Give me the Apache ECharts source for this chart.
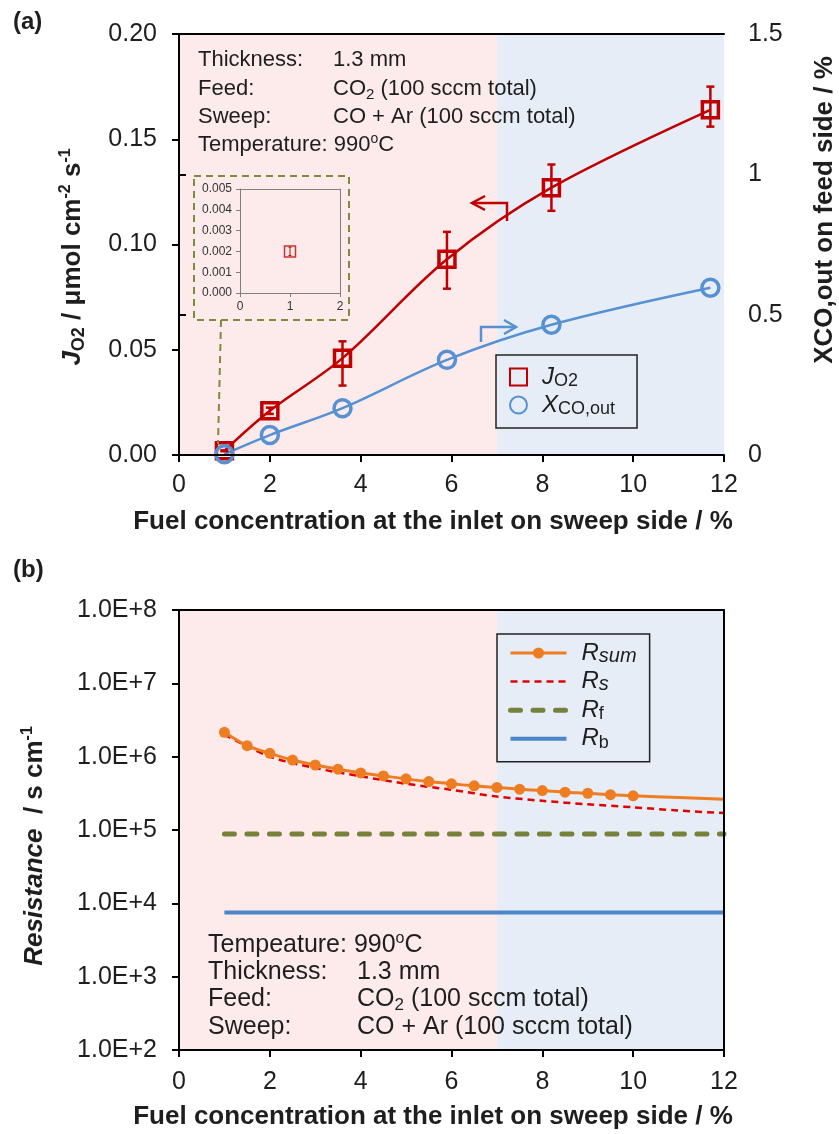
<!DOCTYPE html>
<html>
<head>
<meta charset="utf-8">
<script src="https://cdn.jsdelivr.net/npm/echarts@6/dist/echarts.min.js"></script>
<style>html,body{margin:0;padding:0;background:#fff;}#c{width:839px;height:1134px;}</style>
</head>
<body>
<div id="c"></div>
<script>
// ---------- data: panel (a) ----------
const fuelX = [1.0, 2.0, 3.6, 5.9, 8.2, 11.7];
const jo2 = [0.002, 0.021, 0.046, 0.093, 0.127, 0.164];
const jo2ErrLow = [0.0018, 0.0195, 0.033, 0.079, 0.116, 0.156];
const jo2ErrHigh = [0.0022, 0.0225, 0.054, 0.106, 0.138, 0.175];
const xcoOut = [0.003, 0.071, 0.167, 0.339, 0.464, 0.596];
const regionEdges = [0, 7, 12];

// ---------- data: panel (b) ----------
const rSumX = [1, 1.5, 2, 2.5, 3, 3.5, 4, 4.5, 5, 5.5, 6, 6.5, 7, 7.5, 8, 8.5, 9, 9.5, 10];
const rSum = [2.15e6, 1.41e6, 1.11e6, 9.0e5, 7.7e5, 6.76e5, 6.0e5, 5.47e5, 4.98e5, 4.57e5,
              4.26e5, 4.0e5, 3.8e5, 3.6e5, 3.45e5, 3.28e5, 3.17e5, 3.03e5, 2.92e5];
const rSumTailX = [11, 12];
const rSumTail = [2.77e5, 2.63e5];
const rsX = [1, 2, 3, 4, 5, 6, 7, 8, 9, 10, 11, 12];
const rs = [2.0e6, 1.0e6, 7.0e5, 5.4e5, 4.27e5, 3.53e5, 2.86e5, 2.5e5, 2.24e5, 2.04e5, 1.84e5, 1.7e5];
const rfX = [1, 12];
const rf = [8.8e4, 8.8e4];
const rbX = [1, 12];
const rb = [7.5e3, 7.5e3];

// ---------- text ----------
const annoTop = [['Thickness:', '{n|1.3 mm}'], ['Feed:', '{n|CO}{sb|2}{n| (100 sccm total)}'], ['Sweep:', '{n|CO + Ar (100 sccm total)}']];
const annoTopTemp = '{n|Temperature: 990}{sp|o}{n|C}';
const annoBotTemp = '{n|Tempeature: 990}{sp|o}{n|C}';
const annoBot = [['Thickness:', '{n|1.3 mm}'], ['Feed:', '{n|CO}{sb|2}{n| (100 sccm total)}'], ['Sweep:', '{n|CO + Ar (100 sccm total)}']];

const F = "'Liberation Sans', Arial, sans-serif";
const RED = '#c00000', BLUE = '#5691d3', ORANGE = '#ee7d22', RSRED = '#e00000', OLIVE = '#76813a', RBBLUE = '#4a86c8';
const PINK = '#fdeaea', LBLUE = '#e6edf6';
const TXT = '#1e1e1e';

const chart = echarts.init(document.getElementById('c'), null, {renderer: 'canvas'});

function pairs(xa, ya) { return xa.map((x, i) => [x, ya[i]]); }

function errRender(color, lw, cap) {
  return function (params, api) {
    const x = api.value(0), lo = api.value(1), hi = api.value(2);
    const a = api.coord([x, lo]), b = api.coord([x, hi]);
    const st = {stroke: color, lineWidth: lw};
    return {type: 'group', children: [
      {type: 'line', shape: {x1: a[0], y1: a[1], x2: b[0], y2: b[1]}, style: st},
      {type: 'line', shape: {x1: a[0] - cap, y1: a[1], x2: a[0] + cap, y2: a[1]}, style: st},
      {type: 'line', shape: {x1: b[0] - cap, y1: b[1], x2: b[0] + cap, y2: b[1]}, style: st}
    ]};
  };
}

const mainAxisLine = {show: true, lineStyle: {color: '#000', width: 2}};
const mainTick = {show: true, inside: false, length: 7, lineStyle: {color: '#000', width: 2}};
const mainLabel = {fontFamily: F, fontSize: 25, color: TXT};

function borderAxis(grid, pos, color, w) {
  return {gridIndex: grid, type: 'value', position: pos, min: 0, max: 1, z: 10,
    axisLine: {show: true, onZero: false, lineStyle: {color: color, width: w}},
    axisTick: {show: false}, axisLabel: {show: false}, splitLine: {show: false}};
}

function richSet(size, bold) {
  const fw = bold ? 'bold' : 'normal';
  return {
    n: {fontFamily: F, fontSize: size, fontWeight: fw, fill: TXT, lineHeight: size + 4},
    it: {fontFamily: F, fontSize: size, fontWeight: fw, fontStyle: 'italic', fill: TXT, lineHeight: size + 4},
    sb: {fontFamily: F, fontSize: Math.round(size * 0.68), fontWeight: fw, fill: TXT, lineHeight: Math.round(size * 0.68), verticalAlign: 'bottom'},
    sp: {fontFamily: F, fontSize: Math.round(size * 0.62), fontWeight: fw, fill: TXT, lineHeight: Math.round(size * 0.62), verticalAlign: 'top'}
  };
}

function txt(x, y, text, size, bold, align, rotate) {
  const el = {type: 'text', x: x, y: y, z: 100, style: {text: text, fontFamily: F, fontSize: size, fill: TXT,
    align: align || 'left', verticalAlign: 'middle', rich: richSet(size, bold)}};
  if (rotate) el.rotation = Math.PI / 2;
  return el;
}

const graphics = [
  txt(13, 22, '{n|(a)}', 24, true),
  txt(13, 570, '{n|(b)}', 24, true),
  txt(73, 257, '{it|J}{sb|O2}{n| / μmol cm}{sp|-2}{n| s}{sp|-1}', 26, true, 'center', true),
  txt(825, 210, '{n|XCO,out on feed side / %}', 26, true, 'center', true),
  txt(433, 522, '{n|Fuel concentration at the inlet on sweep side / %}', 26, true, 'center'),
  txt(35, 846, '{it|Resistance}{n|  / s cm}{sp|-1}', 26, true, 'center', true),
  txt(433, 1117, '{n|Fuel concentration at the inlet on sweep side / %}', 26, true, 'center')
];

// annotations
const topRows = [60, 89, 117];
annoTop.forEach((r, i) => {
  graphics.push(txt(198, topRows[i], '{n|' + r[0] + '}', 22, false));
  graphics.push(txt(333, topRows[i], r[1], 22, false));
});
graphics.push(txt(198, 145, annoTopTemp, 22, false));
graphics.push(txt(208, 945, annoBotTemp, 25, false));
const botRows = [972, 999, 1027];
annoBot.forEach((r, i) => {
  graphics.push(txt(208, botRows[i], '{n|' + r[0] + '}', 25, false));
  graphics.push(txt(357, botRows[i], r[1], 25, false));
});
// inset dashed frame and connector
graphics.push({type: 'rect', z: 100, shape: {x: 194, y: 176, width: 155, height: 144},
  style: {fill: null, stroke: '#7f8a3c', lineWidth: 2, lineDash: [7, 5]}});
graphics.push({type: 'line', z: 100, shape: {x1: 221, y1: 320, x2: 218, y2: 444},
  style: {stroke: '#7f8a3c', lineWidth: 2, lineDash: [7, 5]}});
// direction arrows
graphics.push({type: 'polyline', z: 100, shape: {points: [[507, 221], [507, 203], [472, 203]]}, style: {stroke: RED, lineWidth: 2.5, fill: null}});
graphics.push({type: 'polyline', z: 100, shape: {points: [[485, 196], [472, 203], [485, 210]]}, style: {stroke: RED, lineWidth: 2.5, fill: null}});
graphics.push({type: 'polyline', z: 100, shape: {points: [[481, 342], [481, 327], [516, 327]]}, style: {stroke: BLUE, lineWidth: 2.5, fill: null}});
graphics.push({type: 'polyline', z: 100, shape: {points: [[504, 320], [516, 327], [504, 334]]}, style: {stroke: BLUE, lineWidth: 2.5, fill: null}});

const legendRich = {
  pad: {fontFamily: F, fontSize: 24, padding: [0, 0, 0, 10]},
  it: {fontFamily: F, fontSize: 24, fontStyle: 'italic', color: TXT, lineHeight: 26},
  sb: {fontFamily: F, fontSize: 18, color: TXT, lineHeight: 18, verticalAlign: 'bottom'},
  sbi: {fontFamily: F, fontSize: 20, fontStyle: 'italic', color: TXT, lineHeight: 20, verticalAlign: 'bottom'}
};
const legendNames = {
  'JO2': '{it|J}{sb|O2}', 'XCO,out': '{it|X}{sb|CO,out}',
  'Rsum': '{it|R}{sbi|sum}', 'Rs': '{it|R}{sbi|s}', 'Rf': '{it|R}{sb|f}', 'Rb': '{it|R}{sb|b}'
};

const bgArea = {silent: true, data: [
  [{xAxis: regionEdges[0], itemStyle: {color: PINK}}, {xAxis: regionEdges[1]}],
  [{xAxis: regionEdges[1], itemStyle: {color: LBLUE}}, {xAxis: regionEdges[2]}]
]};

const option = {
  animation: false,
  backgroundColor: '#fff',
  textStyle: {fontFamily: F},
  grid: [
    {left: 179, top: 34, width: 545, height: 421},
    {left: 179, top: 610, width: 545, height: 440},
    {left: 240, top: 189, width: 100, height: 104}
  ],
  xAxis: [
    {gridIndex: 0, type: 'value', min: 0, max: 12, interval: 2, z: 10, axisLine: mainAxisLine, axisTick: mainTick,
      axisLabel: Object.assign({margin: 18}, mainLabel), splitLine: {show: false}},
    borderAxis(0, 'top', '#000', 2),
    {gridIndex: 1, type: 'value', min: 0, max: 12, interval: 2, z: 10, axisLine: mainAxisLine, axisTick: mainTick,
      axisLabel: Object.assign({margin: 20}, mainLabel), splitLine: {show: false}},
    borderAxis(1, 'top', '#000', 2),
    {gridIndex: 2, type: 'value', min: 0, max: 2, interval: 1, z: 10,
      axisLine: {show: true, lineStyle: {color: '#7f7f7f', width: 1}},
      axisTick: {show: true, length: 4, lineStyle: {color: '#7f7f7f'}},
      axisLabel: {fontFamily: F, fontSize: 12, color: '#333', margin: 8}, splitLine: {show: false}},
    borderAxis(2, 'top', '#7f7f7f', 1)
  ],
  yAxis: [
    {gridIndex: 0, type: 'value', min: 0, max: 0.2, interval: 0.05, z: 10, axisLine: mainAxisLine, axisTick: mainTick,
      axisLabel: Object.assign({margin: 22, formatter: v => v.toFixed(2)}, mainLabel), splitLine: {show: false}},
    {gridIndex: 0, type: 'value', position: 'right', min: 0, max: 1.5, interval: 0.5, z: 10, axisLine: mainAxisLine, axisTick: mainTick,
      axisLabel: Object.assign({margin: 24}, mainLabel), splitLine: {show: false}},
    {gridIndex: 1, type: 'log', logBase: 10, min: 100, max: 1e8, z: 10, axisLine: mainAxisLine, axisTick: mainTick,
      axisLabel: Object.assign({margin: 22, formatter: v => '1.0E+' + Math.round(Math.log10(v))}, mainLabel),
      splitLine: {show: false}, minorTick: {show: false}},
    borderAxis(1, 'right', '#000', 2),
    {gridIndex: 2, type: 'value', min: 0, max: 0.005, interval: 0.001, z: 10,
      axisLine: {show: true, lineStyle: {color: '#7f7f7f', width: 1}},
      axisTick: {show: true, length: 4, lineStyle: {color: '#7f7f7f'}},
      axisLabel: {fontFamily: F, fontSize: 12, color: '#333', margin: 8, formatter: v => v.toFixed(3)}, splitLine: {show: false}},
    borderAxis(2, 'right', '#7f7f7f', 1)
  ],
  legend: [
    {left: 496, top: 355, orient: 'vertical', selectedMode: false,
      data: [{name: 'JO2', icon: 'rect'}, {name: 'XCO,out', icon: 'circle'}],
      itemWidth: 17, itemHeight: 17, itemGap: 3, padding: [10, 22, 10, 13],
      borderColor: '#222', borderWidth: 1.5,
      formatter: n => '{pad|}' + legendNames[n], textStyle: {fontFamily: F, fontSize: 24, color: TXT, rich: legendRich}},
    {left: 497, top: 634, orient: 'vertical', selectedMode: false,
      data: [
        {name: 'Rsum', lineStyle: {width: 3}},
        {name: 'Rs', itemStyle: {opacity: 0}, lineStyle: {width: 2.5}},
        {name: 'Rf', itemStyle: {opacity: 0}, lineStyle: {width: 5}},
        {name: 'Rb', itemStyle: {opacity: 0}, lineStyle: {width: 4}}
      ],
      itemWidth: 56, itemHeight: 14, itemGap: 3.6, padding: [7, 13, 10, 11],
      borderColor: '#222', borderWidth: 1.5,
      formatter: n => '{pad|}' + legendNames[n], textStyle: {fontFamily: F, fontSize: 24, color: TXT, rich: legendRich}}
  ],
  graphic: graphics,
  series: [
    {name: 'bgTop', type: 'line', xAxisIndex: 0, yAxisIndex: 0, data: [], markArea: bgArea, silent: true},
    {name: 'JO2', type: 'line', xAxisIndex: 0, yAxisIndex: 0, data: pairs(fuelX, jo2), smooth: 0.35,
      symbol: 'rect', symbolSize: 16, lineStyle: {color: RED, width: 2.5},
      itemStyle: {color: 'rgba(255,255,255,0)', borderColor: RED, borderWidth: 3.5}, z: 4},
    {name: 'JO2err', type: 'custom', xAxisIndex: 0, yAxisIndex: 0,
      data: fuelX.map((x, i) => [x, jo2ErrLow[i], jo2ErrHigh[i]]),
      encode: {x: 0, y: [1, 2]}, renderItem: errRender(RED, 2.5, 4), z: 5},
    {name: 'XCO,out', type: 'line', xAxisIndex: 0, yAxisIndex: 1, data: pairs(fuelX, xcoOut), smooth: 0.35,
      symbol: 'circle', symbolSize: 17, lineStyle: {color: BLUE, width: 2.5},
      itemStyle: {color: 'rgba(255,255,255,0)', borderColor: BLUE, borderWidth: 3.5}, z: 4},
    {name: 'insetJO2', type: 'scatter', xAxisIndex: 4, yAxisIndex: 4, data: [[fuelX[0], jo2[0]]],
      symbol: 'rect', symbolSize: 11, itemStyle: {color: 'rgba(255,255,255,0)', borderColor: RED, borderWidth: 1.5}, z: 6},
    {name: 'insetErr', type: 'custom', xAxisIndex: 4, yAxisIndex: 4,
      data: [[fuelX[0], jo2ErrLow[0], jo2ErrHigh[0]]], encode: {x: 0, y: [1, 2]}, renderItem: errRender(RED, 1, 1.5), z: 6},

    {name: 'bgBottom', type: 'line', xAxisIndex: 2, yAxisIndex: 2, data: [], markArea: bgArea, silent: true},
    {name: 'Rsum', type: 'line', xAxisIndex: 2, yAxisIndex: 2,
      data: pairs(rSumX, rSum).concat(pairs(rSumTailX, rSumTail).map(p => ({value: p, symbol: 'none'}))),
      smooth: 0.3, symbol: 'circle', symbolSize: 11, color: ORANGE,
      lineStyle: {color: ORANGE, width: 3}, itemStyle: {color: ORANGE}, z: 6},
    {name: 'Rs', type: 'line', xAxisIndex: 2, yAxisIndex: 2, data: pairs(rsX, rs), smooth: 0.3,
      symbol: 'none', color: RSRED, lineStyle: {color: RSRED, width: 2.5, type: [7, 5]}, z: 5},
    {name: 'Rf', type: 'line', xAxisIndex: 2, yAxisIndex: 2, data: pairs(rfX, rf),
      symbol: 'none', color: OLIVE, lineStyle: {color: OLIVE, width: 5, type: [10, 12.5], cap: 'round'}, z: 5},
    {name: 'Rb', type: 'line', xAxisIndex: 2, yAxisIndex: 2, data: pairs(rbX, rb),
      symbol: 'none', color: RBBLUE, lineStyle: {color: RBBLUE, width: 4}, z: 5}
  ]
};
chart.setOption(option);
</script>
</body>
</html>
